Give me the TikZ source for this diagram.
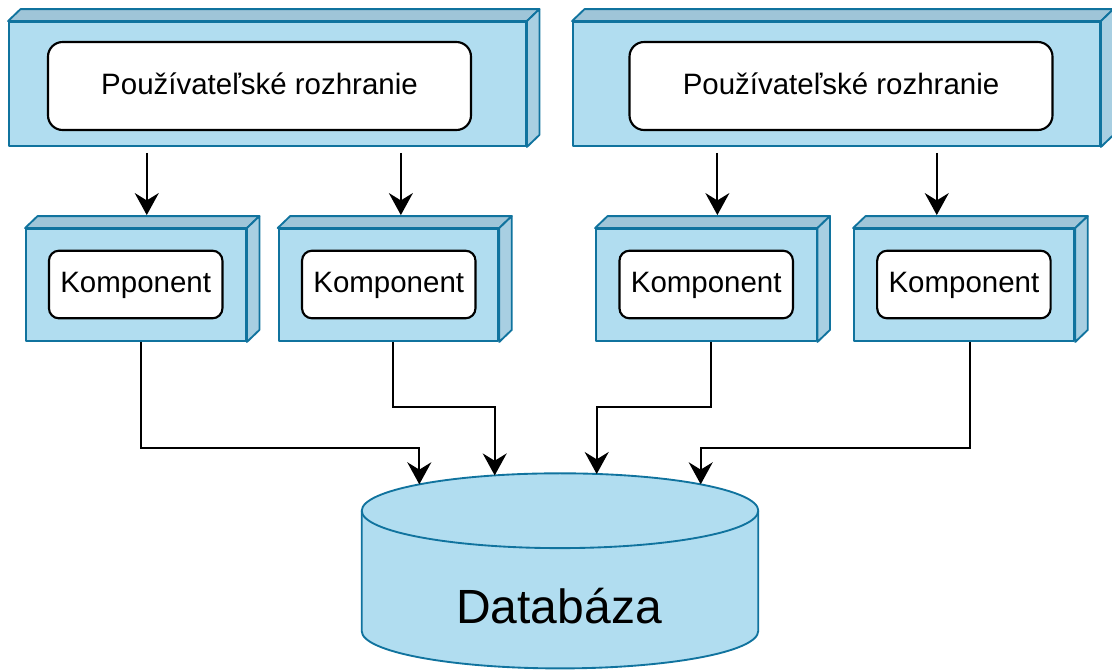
\documentclass[tikz,border=0pt]{standalone}
\usepackage{fontspec}
\setmainfont{Liberation Sans}
\usetikzlibrary{arrows.meta,calc,fit}

\definecolor{boxfill}{HTML}{B1DDF0}
\definecolor{boxline}{HTML}{10739E}
\definecolor{boxtop}{HTML}{9FC5D8}
\definecolor{boxside}{HTML}{A8CFE2}

\tikzset{
  front/.style={draw=boxline, fill=boxfill, line width=1.4pt, inner sep=0pt, line join=round},
  topface/.style={draw=boxline, fill=boxtop, line width=1.4pt, line join=round},
  sideface/.style={draw=boxline, fill=boxside, line width=1.4pt, line join=round},
  labeltext/.style={font=\fontsize{22.1pt}{26pt}\selectfont, text height=15.8pt, text depth=3.1pt},
  uibox/.style={labeltext, draw=black, fill=white, line width=1.6pt, rounded corners=11pt,
    minimum width=317.25pt, minimum height=66pt, inner sep=0pt},
  compbox/.style={labeltext, draw=black, fill=white, line width=1.6pt, rounded corners=7.5pt,
    minimum width=130.1pt, minimum height=50.7pt, inner sep=0pt},
  conn/.style={draw=black, line width=1.5pt,
    -{Stealth[length=16.5pt, width=18pt, inset=5.5pt]}},
  dbshape/.style={draw=boxline, fill=boxfill, line width=1.4pt},
}

% depth faces (top and right) of a box whose front face is node #1
\newcommand\depthfaces[1]{%
  \path[topface] (#1.north west) -- ++(12.5,-12) -- ($(#1.north east)+(12.5,-12)$) -- (#1.north east) -- cycle;
  \path[sideface] (#1.north east) -- ++(12.5,-12) -- ($(#1.south east)+(12.5,-12)$) -- (#1.south east) -- cycle;
}

\begin{document}
\begin{tikzpicture}[x=0.75pt, y=-0.75pt]
\useasboundingbox (0,0) rectangle (1112,669);

% user interface layers
\node[front, fit={(9,22) (526,146)}] (ui1) {};
\depthfaces{ui1}
\node[uibox] (uil1) at (259.5,86) {Používateľské rozhranie};

\node[front, fit={(573,22) (1100,146)}] (ui2) {};
\depthfaces{ui2}
\node[uibox] (uil2) at (841,86) {Používateľské rozhranie};

% components
\node[front, fit={(26,229) (246,341)}] (c1) {};
\depthfaces{c1}
\node[compbox] (cl1) at (135.7,284.5) {Komponent};

\node[front, fit={(278.6,229) (498.3,341)}] (c2) {};
\depthfaces{c2}
\node[compbox] (cl2) at (388.75,284.5) {Komponent};

\node[front, fit={(596,229) (816.5,341)}] (c3) {};
\depthfaces{c3}
\node[compbox] (cl3) at (706.2,284.5) {Komponent};

\node[front, fit={(854,229) (1074.3,341)}] (c4) {};
\depthfaces{c4}
\node[compbox] (cl4) at (963.9,284.5) {Komponent};

% database cylinder
\path[dbshape] (361.7,510.7) -- (361.7,631)
  arc[start angle=180, end angle=360, x radius=148.7pt, y radius=28.05pt]
  -- (758.3,510.7)
  arc[start angle=0, end angle=180, x radius=148.7pt, y radius=28.05pt] -- cycle;
\draw[boxline, line width=1.4pt] (361.7,510.7)
  arc[start angle=180, end angle=360, x radius=148.7pt, y radius=28.05pt];
\node[font=\fontsize{36pt}{42pt}\selectfont, anchor=base] (db) at (559,623.3) {Databáza};

% entry points on the top rim of the database
\coordinate (in1) at (419.3,484.3);
\coordinate (in2) at (494.7,475.4);
\coordinate (in3) at (596.7,474.0);
\coordinate (in4) at (700.7,484.3);

% interface -> component
\draw[conn] ($(ui1.south west)+(138.7,6)$) -- ($(c1.north west)+(121.7,-13)$);
\draw[conn] ($(ui1.south west)+(392.8,6)$) -- ($(c2.north west)+(123.2,-13)$);
\draw[conn] ($(ui2.south west)+(145.3,6)$) -- ($(c3.north west)+(122.3,-13)$);
\draw[conn] ($(ui2.south west)+(364.7,6)$) -- ($(c4.north west)+(83.7,-13)$);

% component -> database
\draw[conn] ($(c1.south west)+(115.7,0)$) |- ($(in1)+(0,-36)$) -- (in1);
\draw[conn] ($(c2.south west)+(115.7,0)$) |- ($(in2)+(0,-68.1)$) -- (in2);
\draw[conn] ($(c3.south west)+(116.3,0)$) |- ($(in3)+(0,-66.7)$) -- (in3);
\draw[conn] ($(c4.south west)+(116.7,0)$) |- ($(in4)+(0,-36)$) -- (in4);
\end{tikzpicture}
\end{document}
